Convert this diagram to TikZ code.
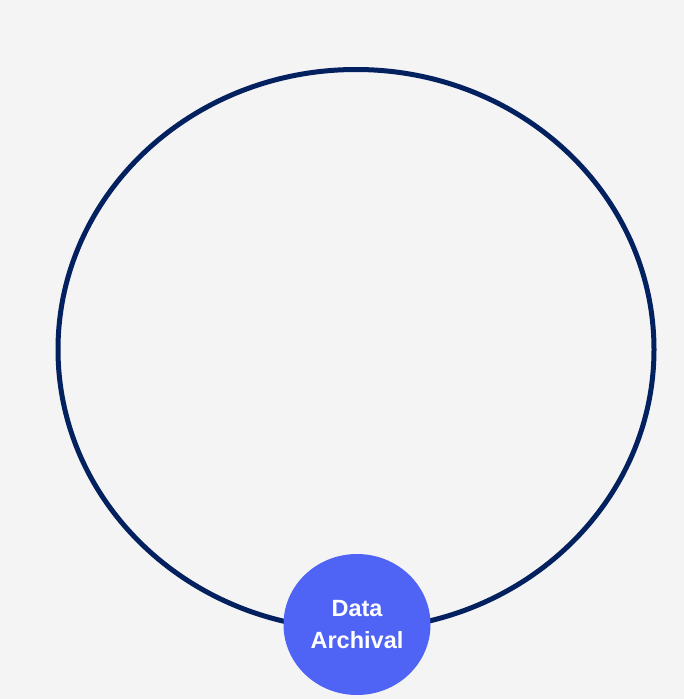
\documentclass[tikz,border=0pt]{standalone}
\usepackage{fontspec}
\setmainfont{Liberation Sans}
\usetikzlibrary{shapes.geometric}
\definecolor{bgc}{HTML}{F4F4F4}
\definecolor{ringc}{HTML}{03205F}
\definecolor{nodec}{HTML}{4F63F5}
\begin{document}
\begin{tikzpicture}[x=1pt,y=-1pt,
  ring/.style={draw=ringc,line width=5pt},
  hub/.style={ellipse,fill=nodec,minimum width=147pt,minimum height=141pt,inner sep=0pt,
    text=white,font=\fontsize{23.5}{32}\selectfont\bfseries,align=center}]
\fill[bgc] (0,0) rectangle (684,699);
\useasboundingbox (0,0) rectangle (684,699);
\draw[ring] (356,349.5) ellipse [x radius=298, y radius=280];
\node[hub] (archival) at (357,624.5) {\raisebox{-2pt}{Data}\\\raisebox{-2pt}{Archival}};
\end{tikzpicture}
\end{document}
